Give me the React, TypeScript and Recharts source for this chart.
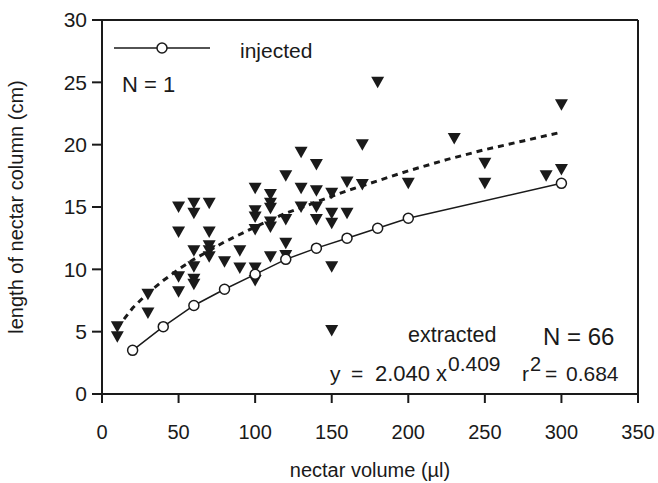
import React from "react";
import {
  ScatterChart,
  Scatter,
  XAxis,
  YAxis,
  ReferenceLine,
} from "recharts";

// extracted nectar (triangles)
const extractedVolume = [
  10, 10, 30, 30, 50, 50, 50, 50, 60, 60, 60, 60, 60, 60, 70, 70, 70, 70, 70, 80,
  90, 90, 100, 100, 100, 100, 100, 100, 110, 110, 110, 110, 110, 110, 120, 120,
  120, 120, 130, 130, 130, 140, 140, 140, 140, 150, 150, 150, 150, 150, 160, 160,
  170, 170, 180, 200, 230, 250, 250, 290, 300, 300,
];
const extractedLength = [
  5.4, 4.6, 8.0, 6.5, 15.0, 13.0, 9.4, 8.2, 15.3, 14.5, 11.5, 10.2, 9.2, 8.8,
  15.3, 13.0, 11.9, 11.5, 11.0, 10.6, 11.5, 10.1, 16.5, 14.7, 14.2, 13.2, 10.1,
  9.1, 16.0, 15.3, 14.9, 13.8, 13.4, 11.0, 17.5, 14.0, 12.1, 11.1, 19.4, 16.5,
  15.0, 18.4, 16.3, 15.0, 14.0, 16.1, 14.5, 13.7, 10.2, 5.1, 17.0, 14.5, 20.0,
  16.8, 25.0, 16.9, 20.5, 18.5, 16.9, 17.5, 18.0, 23.2,
];

// injected nectar (open circles)
const injectedVolume = [20, 40, 60, 80, 100, 120, 140, 160, 180, 200, 300];
const injectedLength = [3.5, 5.4, 7.1, 8.4, 9.6, 10.8, 11.7, 12.5, 13.3, 14.1, 16.9];

// dashed fitted curve
const fitVolume = [10, 20, 30, 40, 50, 60, 80, 100, 120, 140, 160, 180, 200, 225, 250, 275, 300];
const fitLength = [5.3, 6.9, 8.1, 9.1, 10.0, 10.8, 12.2, 13.4, 14.5, 15.4, 16.3, 17.1, 17.9, 18.8, 19.6, 20.3, 21.0];

const xTicks = [0, 50, 100, 150, 200, 250, 300, 350];
const yTicks = [0, 5, 10, 15, 20, 25, 30];

const extracted = extractedVolume.map((x, i) => ({ x, y: extractedLength[i] }));
const injected = injectedVolume.map((x, i) => ({ x, y: injectedLength[i] }));
const fit = fitVolume.map((x, i) => ({ x, y: fitLength[i] }));

const FONT = "'Liberation Sans', Arial, Helvetica, sans-serif";
const INK = "#1a1a1a";

const Triangle = (props: any) => {
  const { cx, cy } = props;
  if (cx == null || cy == null) return <g />;
  return (
    <path
      d={`M${cx - 6.5},${cy - 5.5} L${cx + 6.5},${cy - 5.5} L${cx},${cy + 6} Z`}
      fill={INK}
    />
  );
};

const OpenCircle = (props: any) => {
  const { cx, cy } = props;
  if (cx == null || cy == null) return <g />;
  return <circle cx={cx} cy={cy} r={5} fill="#fff" stroke={INK} strokeWidth={1.5} />;
};

const NoDot = () => <g />;

export default function App() {
  return (
    <div style={{ position: "fixed", left: 0, top: 0, background: "#fff" }}>
      <ScatterChart
        width={658}
        height={483}
        margin={{ top: 20, right: 20, left: 0, bottom: 0 }}
        style={{ fontFamily: FONT }}
      >
        <XAxis
          type="number"
          dataKey="x"
          domain={[0, 350]}
          ticks={xTicks}
          height={89}
          tickSize={9}
          tickMargin={22}
          axisLine={{ stroke: INK, strokeWidth: 2 }}
          tickLine={{ stroke: INK, strokeWidth: 2 }}
          tick={{ fill: INK, fontSize: 20, fontFamily: FONT }}
          label={({ viewBox }: any) => (
            <text
              x={viewBox.x + viewBox.width / 2}
              y={viewBox.y + 83}
              textAnchor="middle"
              fill={INK}
              fontSize={20}
              fontFamily={FONT}
            >
              nectar volume (µl)
            </text>
          )}
        />
        <YAxis
          type="number"
          dataKey="y"
          domain={[0, 30]}
          ticks={yTicks}
          width={102}
          tickSize={10}
          tickMargin={5}
          axisLine={{ stroke: INK, strokeWidth: 2 }}
          tickLine={{ stroke: INK, strokeWidth: 2 }}
          tick={{ fill: INK, fontSize: 21, fontFamily: FONT }}
          label={({ viewBox }: any) => {
            const cy = viewBox.y + viewBox.height / 2;
            return (
              <text
                x={23}
                y={cy}
                textAnchor="middle"
                transform={`rotate(-90, 23, ${cy})`}
                fill={INK}
                fontSize={20}
                fontFamily={FONT}
              >
                length of nectar column (cm)
              </text>
            );
          }}
        />
        {/* plot frame: top and right edges */}
        <ReferenceLine y={30} stroke={INK} strokeWidth={2} ifOverflow="visible" />
        <ReferenceLine x={350} stroke={INK} strokeWidth={2} ifOverflow="visible" />

        <Scatter
          data={fit}
          shape={NoDot}
          line={{ stroke: INK, strokeWidth: 3, strokeDasharray: "6 5" }}
          lineType="joint"
          isAnimationActive={false}
        />
        <Scatter
          data={extracted}
          shape={Triangle}
          isAnimationActive={false}
        />
        <Scatter
          data={injected}
          shape={OpenCircle}
          line={{ stroke: INK, strokeWidth: 1.5 }}
          lineType="joint"
          isAnimationActive={false}
        />

        {/* legend and annotations */}
        <line x1={114} y1={48} x2={210} y2={48} stroke={INK} strokeWidth={1.5} />
        <circle cx={162} cy={48} r={5} fill="#fff" stroke={INK} strokeWidth={1.5} />
        <text x={240} y={58} fill={INK} fontSize={21} fontFamily={FONT}>injected</text>
        <text x={122} y={92} fill={INK} fontSize={22} fontFamily={FONT}>N = 1</text>
        <text x={408} y={342} fill={INK} fontSize={21.5} fontFamily={FONT}>extracted</text>
        <text x={543} y={345} fill={INK} fontSize={24} fontFamily={FONT}>N = 66</text>
        <text y={381} fill={INK} fontSize={21} fontFamily={FONT}>
          <tspan x={330}>y</tspan>
          <tspan x={351}>=</tspan>
          <tspan x={375} fontSize={22}>2.040</tspan>
          <tspan x={436} fontSize={22}>x</tspan>
          <tspan x={448} dy={-10} fontSize={21}>0.409</tspan>
        </text>
        <text y={381} fill={INK} fontSize={21} fontFamily={FONT}>
          <tspan x={522}>r</tspan>
          <tspan x={530} dy={-10} fontSize={20}>2</tspan>
          <tspan x={545} dy={10}>=</tspan>
          <tspan x={566}>0.684</tspan>
        </text>
      </ScatterChart>
    </div>
  );
}
